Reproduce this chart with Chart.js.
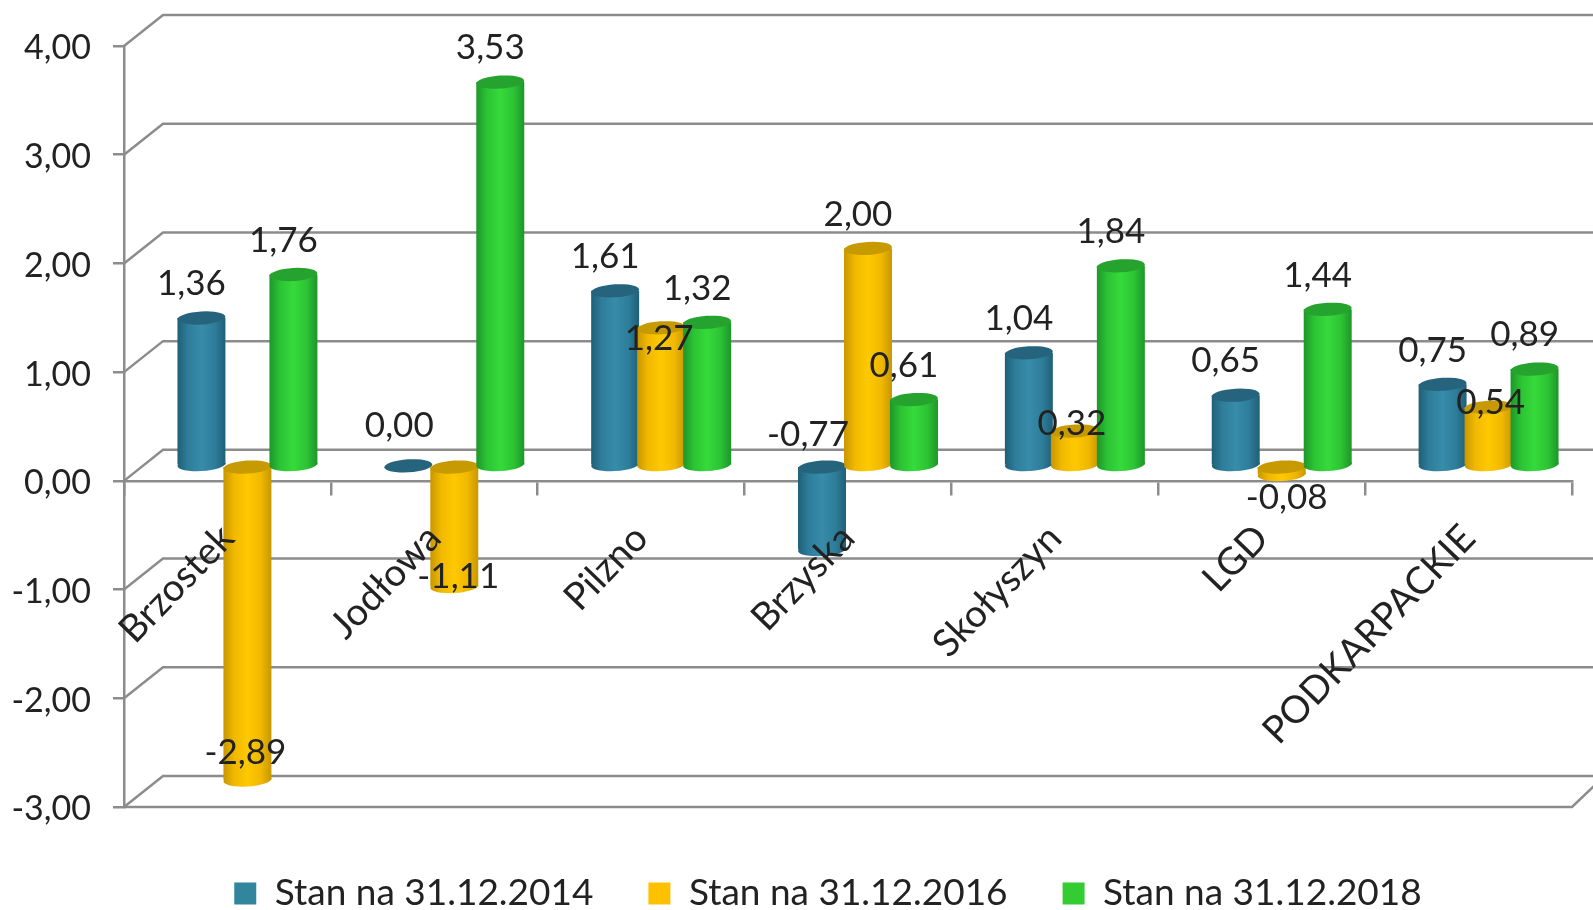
<!DOCTYPE html>
<html>
<head>
<meta charset="utf-8">
<style>
  html, body { margin: 0; padding: 0; background: #fff; overflow: hidden; }
</style>
<script src="https://cdn.jsdelivr.net/npm/chart.js@4"></script>
</head>
<body>
<canvas id="chart" width="1593" height="910"></canvas>
<script>
const categories = ["Brzostek", "Jodłowa", "Pilzno", "Brzyska", "Skołyszyn", "LGD", "PODKARPACKIE"];
const stan2014 = [1.36, 0.00, 1.61, -0.77, 1.04, 0.65, 0.75];
const stan2016 = [-2.89, -1.11, 1.27, 2.00, 0.32, -0.08, 0.54];
const stan2018 = [1.76, 3.53, 1.32, 0.61, 1.84, 1.44, 0.89];

const fontName = "Lato, 'Open Sans', sans-serif";
const textColor = "#222222";
const lineColor = "#8c8c8c";

// bars stand on the middle of the 3D floor, not on the front axis
const barDx = 20, barDy = -15;
const wallDx = 39, wallDy = -31;

// [edge, middle, centre, top of the cylinder]
const shades = [
  ["#1f5f78", "#2e7d9a", "#378ca9", "#26647d"],
  ["#c79700", "#f0b800", "#ffc900", "#c69a00"],
  ["#1d962a", "#2cc334", "#36da3b", "#25a32e"]
];

// labels that Excel moved away from their usual place: "dataset:index": [dx, dy] from the bar end
const labelShift = {
  "0:1": [-9, -39],
  "0:3": [-14, -114],
  "1:0": [-2, -26],
  "1:1": [4, -9],
  "1:2": [-2, 12],
  "1:4": [-3, -6],
  "1:5": [5, 24],
  "1:6": [2, -3]
};

const fmt = v => Number(v).toFixed(2).replace(".", ",");

const cylinders = {
  id: "cylinders",
  beforeLayout(chart) {
    // legend sits below the plot by hand, so it must not eat chart height
    const lg = chart.legend;
    if (lg && !lg._patched) {
      const fit = lg.fit;
      lg.fit = function () { fit.call(this); this.height = 0; };
      lg._patched = true;
    }
  },
  afterLayout(chart) {
    const lg = chart.legend;
    lg.top = 875 - lg.options.labels.padding;
    lg.bottom = chart.height;
    lg.height = lg.bottom - lg.top;
    lg.left += 42;
    lg.right += 42;
  },
  beforeDraw(chart) {
    const { ctx, scales: { y }, chartArea: a, width } = chart;
    ctx.save();
    ctx.strokeStyle = lineColor;
    ctx.lineWidth = 2.5;
    y.ticks.forEach(t => {
      const py = y.getPixelForValue(t.value);
      ctx.beginPath();
      ctx.moveTo(a.left, py);
      ctx.lineTo(a.left + wallDx, py + wallDy);
      ctx.lineTo(width, py + wallDy);
      ctx.stroke();
    });
    const low = y.getPixelForValue(y.min);
    ctx.beginPath();
    ctx.moveTo(a.left, low);
    ctx.lineTo(a.right, low);
    ctx.lineTo(a.right + 22, low - 21);
    ctx.stroke();
    ctx.restore();
  },
  beforeDatasetsDraw(chart) {
    // own drawing order: later series lie over earlier ones, as in the original
    const { ctx } = chart;
    ctx.save();
    ctx.translate(barDx, barDy);
    chart.data.datasets.forEach((ds, i) => {
      const sh = shades[i];
      chart.getDatasetMeta(i).data.forEach(bar => {
        const w = bar.width, x = bar.x;
        const g = ctx.createLinearGradient(x - w / 2, 0, x + w / 2, 0);
        g.addColorStop(0, sh[0]);
        g.addColorStop(0.22, sh[1]);
        g.addColorStop(0.5, sh[2]);
        g.addColorStop(0.78, sh[1]);
        g.addColorStop(1, sh[0]);
        const upper = Math.min(bar.y, bar.base), lower = Math.max(bar.y, bar.base);
        ctx.fillStyle = g;
        if (lower > upper) {
          ctx.beginPath();
          ctx.ellipse(x, lower, w / 2, 6.5, -0.06, 0, Math.PI * 2);
          ctx.fill();
          const o = bar.options;
          bar.options = Object.assign({}, o, { backgroundColor: g });
          bar.draw(ctx);
          bar.options = o;
        }
        ctx.fillStyle = sh[3];
        ctx.beginPath();
        ctx.ellipse(x, upper, w / 2, 6.5, -0.06, 0, Math.PI * 2);
        ctx.fill();
      });
    });
    ctx.restore();
    return false;
  },
  afterDraw(chart) {
    const { ctx } = chart;
    ctx.save();
    ctx.font = "35px " + fontName;
    ctx.fillStyle = textColor;
    ctx.textAlign = "center";
    ctx.textBaseline = "middle";
    chart.data.datasets.forEach((ds, i) => {
      chart.getDatasetMeta(i).data.forEach((bar, j) => {
        const shift = labelShift[i + ":" + j] || [-10, -33];
        ctx.fillText(fmt(ds.data[j]), bar.x + barDx + shift[0], bar.y + barDy + shift[1] - 1);
      });
    });
    ctx.restore();
  }
};

new Chart(document.getElementById("chart"), {
  type: "bar",
  data: {
    labels: categories,
    datasets: [
      { label: "Stan na 31.12.2014", data: stan2014, backgroundColor: "#31859c", borderWidth: 0 },
      { label: "Stan na 31.12.2016", data: stan2016, backgroundColor: "#ffc000", borderWidth: 0 },
      { label: "Stan na 31.12.2018", data: stan2018, backgroundColor: "#33cc33", borderWidth: 0 }
    ]
  },
  options: {
    responsive: false,
    animation: false,
    categoryPercentage: 0.667,
    barPercentage: 1.043,
    layout: { padding: { top: 46, right: 21, bottom: 103, left: 0 } },
    plugins: {
      tooltip: { enabled: false },
      legend: {
        position: "bottom",
        labels: {
          font: { family: fontName, size: 37 },
          color: textColor,
          boxWidth: 22,
          boxHeight: 22,
          padding: 55
        }
      }
    },
    scales: {
      x: {
        position: { y: 0 },
        grid: { drawOnChartArea: false, color: lineColor, lineWidth: 2.5, tickLength: 13 },
        border: { color: lineColor, width: 2.5 },
        ticks: {
          z: 1,
          autoSkip: false,
          minRotation: 46,
          maxRotation: 46,
          padding: 22,
          color: textColor,
          font: { family: fontName, size: 38 }
        }
      },
      y: {
        min: -3,
        max: 4,
        afterFit(s) { s.width = 124; },
        grid: { drawOnChartArea: false, color: lineColor, lineWidth: 2.5, tickLength: 11 },
        border: { color: lineColor, width: 2.5 },
        ticks: {
          stepSize: 1,
          padding: 22,
          labelOffset: 2.5,
          color: textColor,
          font: { family: fontName, size: 34 },
          callback: v => fmt(v)
        }
      }
    }
  },
  plugins: [cylinders]
});
</script>
</body>
</html>
